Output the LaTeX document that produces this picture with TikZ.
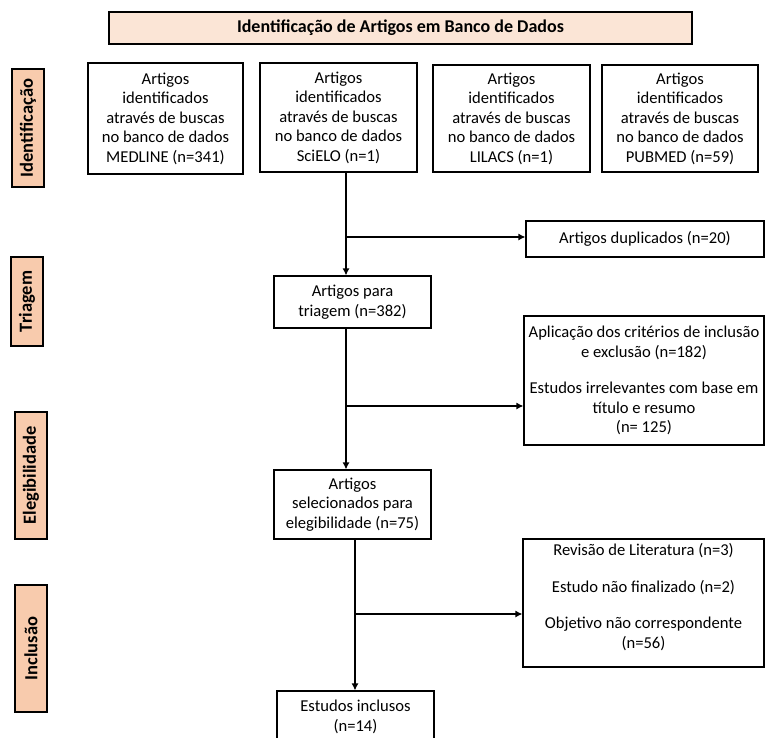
\documentclass[tikz,border=0pt]{standalone}
\usepackage{fontspec}
\setmainfont{Carlito}
\usetikzlibrary{arrows.meta}
\definecolor{peach}{HTML}{F8CBAD}
\definecolor{palepeach}{HTML}{FBE5D6}

\begin{document}
\begin{tikzpicture}[x=1pt, y=-1pt,
    box/.style={draw, line width=1.2pt, inner sep=0pt, align=center, font=\fontsize{16.6}{19.5}\selectfont},
    phase/.style={draw, line width=1.2pt, fill=peach, inner sep=0pt, rotate=90, minimum height=32pt, font=\fontsize{18.5}{20}\selectfont\bfseries},
    arr/.style={line width=1.2pt, -{Latex[length=7pt, width=7pt]}}]
    \useasboundingbox (0,0) rectangle (765,738);

    % header and phases
    \node[box, fill=palepeach, font=\fontsize{18}{20}\selectfont\bfseries, minimum width=583pt, minimum height=32pt] (head) at (400.5,28) {Identificação de Artigos em Banco de Dados};
    \node[phase, minimum width=118pt] (ph1) at (28,128) {Identificação};
    \node[phase, minimum width=89pt] (ph2) at (27,301.5) {Triagem};
    \node[phase, minimum width=127pt] (ph3) at (31,475.5) {Elegibilidade};
    \node[phase, minimum width=127pt] (ph4) at (31,648.5) {Inclusão};

    % databases
    \node[box, minimum width=155pt, minimum height=111pt] (medline) at (165.5,118.5) {Artigos\\ identificados\\ através de buscas\\ no banco de dados\\ MEDLINE (n=341)};
    \node[box, minimum width=157pt, minimum height=109pt] (scielo) at (338.5,117.5) {Artigos\\ identificados\\ através de buscas\\ no banco de dados\\ SciELO (n=1)};
    \node[box, minimum width=157pt, minimum height=107pt] (lilacs) at (511.5,118.5) {Artigos\\ identificados\\ através de buscas\\ no banco de dados\\ LILACS (n=1)};
    \node[box, minimum width=156pt, minimum height=107pt] (pubmed) at (680,118.5) {Artigos\\ identificados\\ através de buscas\\ no banco de dados\\ PUBMED (n=59)};

    % main flow
    \node[box, minimum width=157pt, minimum height=52pt] (triag) at (352.5,302) {Artigos para\\ triagem (n=382)};
    \node[box, minimum width=157pt, minimum height=69pt] (eleg) at (352.5,504.5) {Artigos\\ selecionados para\\ elegibilidade (n=75)};
    \node[box, minimum width=157pt, minimum height=52pt] (incl) at (355.5,717) {Estudos inclusos\\ (n=14)};

    % exclusions
    \node[box, minimum width=238pt, minimum height=36pt] (dup) at (645,239) {Artigos duplicados (n=20)};
    \node[box, minimum width=240pt, minimum height=129pt] (crit) at (644,380.5) {Aplicação dos critérios de inclusão\\ e exclusão (n=182)\\[17pt] Estudos irrelevantes com base em\\ título e resumo\\ (n= 125)};
    \node[box, minimum width=241pt, minimum height=128pt, text depth=14pt] (excl) at (643.5,603) {Revisão de Literatura (n=3)\\[17pt] Estudo não finalizado (n=2)\\[17pt] Objetivo não correspondente\\ (n=56)};

    % connectors
    \coordinate (j1) at (346,237);
    \coordinate (j2) at (346,406);
    \coordinate (j3) at (355,614);
    \draw[arr] (scielo.south -| j1) -- (triag.north -| j1);
    \draw[arr] (j1) -- (dup.west |- j1);
    \draw[arr] (triag.south -| j2) -- (eleg.north -| j2);
    \draw[arr] (j2) -- (crit.west |- j2);
    \draw[arr] (eleg.south -| j3) -- (incl.north -| j3);
    \draw[arr] (j3) -- (excl.west |- j3);
\end{tikzpicture}
\end{document}
